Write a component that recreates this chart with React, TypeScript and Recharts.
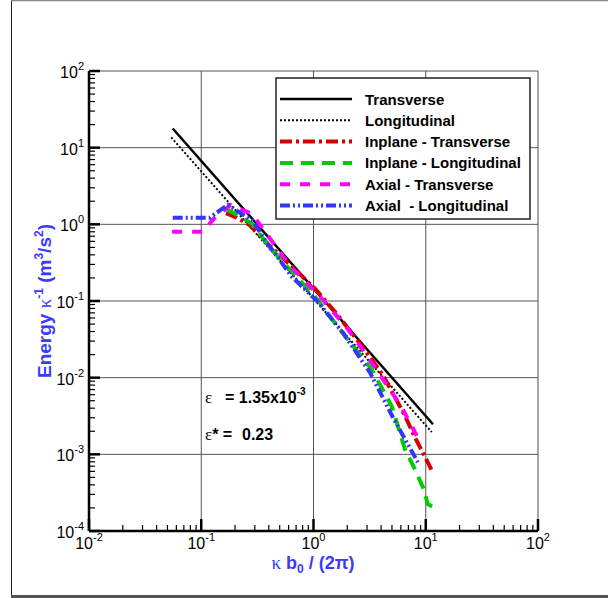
import React from 'react';
import { LineChart, Line, XAxis, YAxis, CartesianGrid } from 'recharts';

const SANS = '"Liberation Sans", Arial, sans-serif';
const SERIF = '"Liberation Serif", "Times New Roman", serif';
const LABEL_BLUE = '#3a3aff';

// [kappa b0 / (2 pi), energy kappa^-1]
const transverse = [[0.0557, 17.8], [11.6, 0.00247]];
const longitudinal = [[0.054, 13.6], [11.3, 0.00195]];
const inplaneTransverse = [
  [0.166, 1.4], [0.207, 1.22], [0.27, 0.98], [0.4, 0.54], [0.6, 0.31], [1.03, 0.145],
  [1.61, 0.068], [2.59, 0.028], [4.15, 0.0108], [6.52, 0.0032], [8.0, 0.00167],
  [10.0, 0.00089], [11.3, 0.00062],
];
const inplaneLongitudinal = [
  [0.166, 1.58], [0.22, 1.28], [0.282, 1.02], [0.392, 0.54], [0.615, 0.256], [1.03, 0.114],
  [1.72, 0.0425], [3.3, 0.0128], [4.98, 0.00424], [6.52, 0.00117], [8.0, 0.00064],
  [9.62, 0.00035], [10.4, 0.000225], [11.6, 0.000206],
];
const axialTransverse = [
  [0.055, 0.8], [0.103, 0.8], [0.132, 1.22], [0.183, 1.79], [0.282, 1.37], [0.36, 0.85],
  [0.471, 0.494], [0.641, 0.272], [1.14, 0.114], [1.98, 0.0451], [3.52, 0.0136],
  [5.88, 0.0045], [7.21, 0.00262], [8.69, 0.00153],
];
const axialLongitudinal = [
  [0.0557, 1.22], [0.119, 1.22], [0.172, 1.79], [0.288, 1.11], [0.384, 0.575], [0.491, 0.356],
  [0.641, 0.207], [1.09, 0.098], [1.82, 0.0388], [3.18, 0.0117], [5.09, 0.00305],
  [6.52, 0.00158], [8.51, 0.00079],
];

const X_DECADES = [0.01, 0.1, 1, 10, 100];
const Y_DECADES = [0.0001, 0.001, 0.01, 0.1, 1, 10, 100];
const MINOR_STEPS = [2, 3, 4, 5, 6, 7, 8, 9];

const withMinors = (decades: number[]) =>
  decades.flatMap((d, i) => (i < decades.length - 1 ? [d, ...MINOR_STEPS.map((m) => d * m)] : [d]));

const xTicks = withMinors(X_DECADES);
const yTicks = withMinors(Y_DECADES);

const SERIES = [
  { name: 'Transverse', data: transverse, color: '#000000', width: 2.5, dash: undefined },
  { name: 'Longitudinal', data: longitudinal, color: '#000000', width: 2, dash: '2 2' },
  { name: 'Inplane - Transverse', data: inplaneTransverse, color: '#d40000', width: 4, dash: '12 4 3 4' },
  { name: 'Inplane - Longitudinal', data: inplaneLongitudinal, color: '#00cc00', width: 4, dash: '13 8' },
  { name: 'Axial - Transverse', data: axialTransverse, color: '#ff00ff', width: 4, dash: '10 10' },
  { name: 'Axial  - Longitudinal', data: axialLongitudinal, color: '#3535ff', width: 4, dash: '10 3 2 3 2 3' },
];

const isDecade = (v: number) => Math.abs(Math.log10(v) - Math.round(Math.log10(v))) < 1e-9;

const XTick = (props: any) => {
  const { x, y, payload } = props;
  const v = payload.value;
  const major = isDecade(v);
  return (
    <g>
      <line x1={x} x2={x} y1={y} y2={y - (major ? 12 : 6)} stroke="#000" strokeWidth={major ? 2.5 : 1.2} />
      {major && (
        <text x={x} y={y + 18} textAnchor="middle" fontFamily={SANS} fontSize={16} fill="#000">
          10<tspan dy={-8} fontSize={11}>{Math.round(Math.log10(v))}</tspan>
        </text>
      )}
    </g>
  );
};

const YTick = (props: any) => {
  const { x, y, payload } = props;
  const v = payload.value;
  const major = isDecade(v);
  return (
    <g>
      <line x1={x} x2={x + (major ? 11 : 6)} y1={y} y2={y} stroke="#000" strokeWidth={major ? 2.5 : 1.2} />
      {major && (
        <text x={x - 5} y={y + 7} textAnchor="end" fontFamily={SANS} fontSize={16} fill="#000">
          10<tspan dy={-8} fontSize={11}>{Math.round(Math.log10(v))}</tspan>
        </text>
      )}
    </g>
  );
};

const Overlay = () => (
  <svg width={608} height={598} style={{ position: 'absolute', left: 0, top: 0, pointerEvents: 'none' }}>
    {/* page frame */}
    <line x1={11.5} x2={11.5} y1={0} y2={598} stroke="#222" strokeWidth={1} />
    <line x1={11} x2={608} y1={0.5} y2={0.5} stroke="#888" strokeWidth={1.5} />
    <line x1={11} x2={608} y1={596.5} y2={596.5} stroke="#555" strokeWidth={3} />

    {/* legend */}
    <rect x={276} y={78} width={254} height={141} fill="#fff" stroke="#222" strokeWidth={1.5} />
    {SERIES.map((s, i) => {
      const cy = 99 + i * 21.3;
      return (
        <g key={s.name}>
          <line x1={280} x2={352} y1={cy} y2={cy} stroke={s.color} strokeWidth={s.width} strokeDasharray={s.dash} />
          <text x={365} y={cy + 5.5} fontFamily={SANS} fontWeight="bold" fontSize={15} fill="#000" style={{ whiteSpace: 'pre' }}>
            {s.name}
          </text>
        </g>
      );
    })}

    {/* annotations */}
    <text y={403} fontFamily={SANS} fontWeight="bold" fontSize={16} fill="#000">
      <tspan x={205} fontFamily={SERIF} fontWeight="normal" fontSize={17}>ε</tspan>
      <tspan x={225}>= 1.35x10</tspan>
      <tspan dy={-8} fontSize={10}>-3</tspan>
    </text>
    <text y={440} fontFamily={SANS} fontWeight="bold" fontSize={16} fill="#000">
      <tspan x={205} fontFamily={SERIF} fontWeight="normal" fontSize={17}>ε</tspan>
      <tspan>* =</tspan>
      <tspan x={242}>0.23</tspan>
    </text>

    {/* axis titles */}
    <text x={313} y={569} textAnchor="middle" fontFamily={SANS} fontWeight="bold" fontSize={18} fill={LABEL_BLUE}>
      <tspan fontFamily={SERIF} fontWeight="normal" fontSize={19}>κ</tspan>
      <tspan> b</tspan>
      <tspan dy={4} fontSize={12}>0</tspan>
      <tspan dy={-4}> / (2π)</tspan>
    </text>
    <text transform="translate(51,301) rotate(-90)" textAnchor="middle" fontFamily={SANS} fontWeight="bold" fontSize={19} fill={LABEL_BLUE}>
      Energy <tspan fontFamily={SERIF} fontWeight="normal">κ</tspan>
      <tspan dy={-8} fontSize={12}>-1</tspan>
      <tspan dy={8}> (m</tspan>
      <tspan dy={-8} fontSize={12}>3</tspan>
      <tspan dy={8}>/s</tspan>
      <tspan dy={-8} fontSize={12}>2</tspan>
      <tspan dy={8}>)</tspan>
    </text>
  </svg>
);

export default function App() {
  return (
    <div style={{ position: 'absolute', left: 0, top: 0, width: 608, height: 598, background: '#fff' }}>
      <LineChart width={608} height={598} margin={{ top: 71, right: 70, bottom: 37, left: 29 }}>
        <CartesianGrid
          horizontalValues={Y_DECADES.slice(1)}
          verticalValues={X_DECADES.slice(1)}
          stroke="#555"
          strokeWidth={1}
        />
        <XAxis
          type="number"
          dataKey="x"
          scale="log"
          domain={[0.01, 100]}
          allowDataOverflow
          ticks={xTicks}
          interval={0}
          tickSize={0}
          tickMargin={0}
          tickLine={false}
          tick={(p: any) => <XTick {...p} />}
          axisLine={{ stroke: '#000', strokeWidth: 2.5 }}
          height={30}
        />
        <YAxis
          type="number"
          dataKey="y"
          scale="log"
          domain={[0.0001, 100]}
          allowDataOverflow
          ticks={yTicks}
          interval={0}
          tickSize={0}
          tickMargin={0}
          tickLine={false}
          tick={(p: any) => <YTick {...p} />}
          axisLine={{ stroke: '#000', strokeWidth: 2.5 }}
          width={60}
        />
        {SERIES.map((s) => (
          <Line
            key={s.name}
            name={s.name}
            data={s.data.map(([x, y]) => ({ x, y }))}
            dataKey="y"
            type="linear"
            stroke={s.color}
            strokeWidth={s.width}
            strokeDasharray={s.dash}
            dot={false}
            activeDot={false}
            isAnimationActive={false}
          />
        ))}
      </LineChart>
      <Overlay />
    </div>
  );
}
